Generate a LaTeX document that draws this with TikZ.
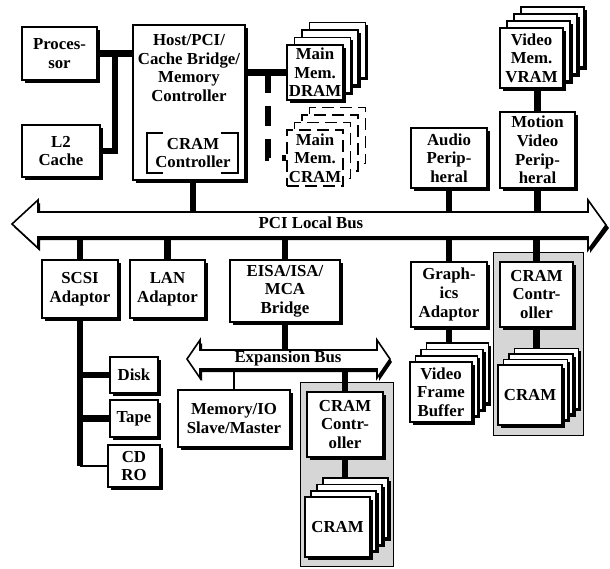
\documentclass[tikz,border=0pt]{standalone}
\usepackage{fontspec}
\setmainfont{Liberation Serif}
\usetikzlibrary{shadows}
\newcommand\bfnt{\fontsize{16.8}{18.6}\selectfont\bfseries}
\tikzset{
  box/.style={draw=black, line width=1.7pt, fill=white, inner sep=0pt, align=center, font=\bfnt,
    drop shadow={shadow xshift=2.5pt, shadow yshift=-2.5pt, fill=black, opacity=1}},
  dbox/.style={draw=black, line width=1.9pt, fill=white, inner sep=0pt, align=center, font=\bfnt,
    dash pattern=on 12pt off 6pt},
  region/.style={draw=black, line width=0.9pt, fill=black!16, inner sep=0pt},
  lbl/.style={inner sep=0pt, align=center, font=\bfnt},
  conn/.style={line width=6.5pt, draw=black},
  thinconn/.style={line width=1.5pt, draw=black},
  busshape/.style={fill=white, draw=black, line width=1.6pt, line join=miter},
  busshadow/.style={fill=black}
}
% \bxn[style]{name}{x1}{y1}{x2}{y2}{text}
\newcommand\bxn[7][box]{%
  \pgfmathsetmacro\bcx{((#3)+(#5))/2}%
  \pgfmathsetmacro\bcy{((#4)+(#6))/2}%
  \pgfmathsetmacro\bw{(#5)-(#3)}%
  \pgfmathsetmacro\bh{(#6)-(#4)}%
  \node[#1, minimum width=\bw pt, minimum height=\bh pt] (#2) at (\bcx,\bcy) {#7};}
% \stk{style}{name}{x1}{y1}{x2}{y2}{dx}{dy}{text}
\newcommand\stk[9]{%
  \foreach \i in {3,2,1}{\bxn[#1]{#2\i}{#3+\i*#7}{#4-\i*#8}{#5+\i*#7}{#6-\i*#8}{}}%
  \bxn[#1]{#2}{#3}{#4}{#5}{#6}{#9}}
\begin{document}
\begin{tikzpicture}[x=1pt, y=-1pt]
\useasboundingbox (0,0) rectangle (610,568);

% ---------- upper part ----------
\bxn{proc}{22}{27}{97}{80}{Proces-\\sor}
\bxn{l2}{22}{125}{100}{177}{L2\\Cache}
\bxn{host}{133}{25}{245}{180}{}
\node[lbl] (hosttxt) at (189,68) {Host/PCI/\\Cache Bridge/\\Memory\\Controller};
\node[lbl] (hcc) at (193,153) {CRAM\\Controller};
\draw[line width=2.4pt] (163,133) -| (147,173) -- (163,173);
\draw[line width=2.4pt] (221,133) -| (238,173) -- (221,173);

\coordinate (pj) at (115,53.5);
\draw[conn] (proc.east) -- (host.west |- proc.east);
\draw[conn] (l2.east) -| (pj);

\stk{box}{dram}{287}{45}{343}{100}{7.5}{7.5}{Main\\Mem.\\DRAM}
\stk{dbox}{mcram}{287}{130}{343}{186}{7.5}{7.5}{Main\\Mem.\\CRAM}
\coordinate (dj) at (268,72.5);
\draw[conn] (host.east |- dram.west) -- (dram.west);
\draw[conn, dash pattern=on 20pt off 13pt] (dj) |- (mcram.west);

\stk{box}{vram}{500}{28}{563}{88}{7}{7}{Video\\Mem.\\VRAM}
\bxn{motion}{500}{112}{575}{188}{Motion\\Video\\Perip-\\heral}
\bxn{audio}{411}{128}{487}{188}{Audio\\Perip-\\heral}
\draw[conn] (motion.north |- vram.south) -- (motion.north);

% ---------- PCI local bus ----------
\fill[busshadow] (14,227) -- (40,203) -- (40,215) -- (590,215) -- (590,203) -- (609,228)
  -- (590,253) -- (590,240) -- (40,240) -- (40,251) -- cycle;
\filldraw[busshape] (12,224) -- (38,200) -- (38,212) -- (588,212) -- (588,200) -- (606,225)
  -- (588,250) -- (588,237) -- (38,237) -- (38,248) -- cycle;
\node[lbl] (pcit) at (311,223) {PCI Local Bus};
\coordinate (pcitop) at (0,212);
\coordinate (pcibot) at (0,237);

\draw[conn] ([xshift=4pt]host.south) -- ([xshift=4pt]host.south |- pcitop);
\draw[conn] (audio.south) -- (audio.south |- pcitop);
\draw[conn] (motion.south) -- (motion.south |- pcitop);

% ---------- lower part ----------
\bxn{scsi}{42}{260}{118}{318}{SCSI\\Adaptor}
\bxn{lan}{130}{260}{205}{318}{LAN\\Adaptor}
\bxn{eisa}{230}{260}{340}{322}{EISA/ISA/\\MCA\\Bridge}
\bxn{gfx}{411}{262}{487}{327}{Graph-\\ics\\Adaptor}

\bxn[region]{reg1}{493}{252}{583}{435}{}
\bxn{cc1}{500}{262}{573}{327}{CRAM\\Contr-\\oller}
\stk{box}{cs1}{498}{365}{562}{425}{5.5}{5.5}{CRAM}

\stk{box}{vfb}{410}{362}{472}{422}{5.5}{6.3}{Video\\Frame\\Buffer}

\draw[conn] (scsi.north |- pcibot) -- (scsi.north);
\draw[conn] (lan.north |- pcibot) -- (lan.north);
\draw[conn] (eisa.north |- pcibot) -- (eisa.north);
\draw[conn] (gfx.north |- pcibot) -- (gfx.north);
\draw[conn] (cc1.north |- pcibot) -- (cc1.north);
\draw[conn] (cc1.south) -- (cc1.south |- cs13.north);
\draw[conn] (gfx.south) -- (gfx.south |- vfb3.north);

% ---------- expansion bus ----------
\fill[busshadow] (189,362) -- (202,343) -- (202,353) -- (379,353) -- (379,343) -- (392,362)
  -- (379,381) -- (379,372) -- (202,372) -- (202,381) -- cycle;
\filldraw[busshape] (187,359) -- (200,340) -- (200,350) -- (377,350) -- (377,340) -- (390,359)
  -- (377,378) -- (377,369) -- (200,369) -- (200,378) -- cycle;
\node[lbl] (ebt) at (288,358) {Expansion Bus};
\coordinate (ebtop) at (0,350);
\coordinate (ebbot) at (0,369);
\draw[conn] (eisa.south) -- (eisa.south |- ebtop);

\bxn{mem}{178}{390}{290}{447}{Memory/IO\\Slave/Master}
\draw[thinconn] (mem.north |- ebbot) -- (mem.north);

\bxn[region]{reg2}{300}{382}{393}{566}{}
\bxn{cc2}{307}{392}{383}{457}{CRAM\\Contr-\\oller}
\stk{box}{cs2}{305}{497}{370}{557}{6}{6.3}{CRAM}
\draw[conn] (cc2.north |- ebbot) -- (cc2.north);
\draw[conn] (cc2.south) -- (cc2.south |- cs23.north);

% ---------- SCSI devices ----------
\bxn{disk}{110}{357}{158}{393}{Disk}
\bxn{tape}{110}{400}{158}{437}{Tape}
\bxn{cd}{108}{445}{160}{487}{CD\\RO}
\coordinate (cdj) at (80,466);
\draw[conn] (scsi.south) -- (cdj);
\draw[conn] (scsi.south |- disk.west) -- (disk.west);
\draw[conn] (scsi.south |- tape.west) -- (tape.west);
\draw[thinconn] (cdj) -- (cd.west);
\end{tikzpicture}
\end{document}
